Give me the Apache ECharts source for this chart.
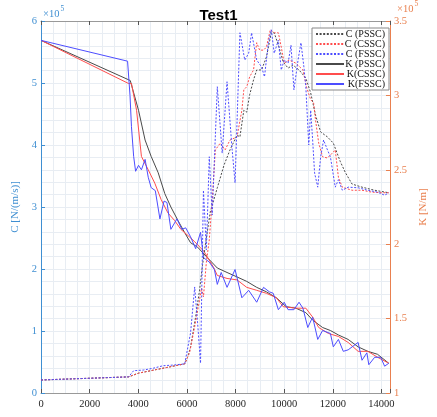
<!DOCTYPE html>
<html><head><meta charset="utf-8">
<script src="https://cdn.jsdelivr.net/npm/echarts@6/dist/echarts.min.js"></script>
<style>html,body{margin:0;padding:0;background:#fff}#c{width:437px;height:417px}</style>
</head><body><div id="c"></div>
<script>
// Values in units of 1e5 (axes show ×10^5)
const xTicks = [0,2000,4000,6000,8000,10000,12000,14000];
const cTicks = [0,1,2,3,4,5,6];
const kTicks = [1,1.5,2,2.5,3,3.5];

const cPsscX = [0,3600,4010,5910,6030,6150,6360,6520,6640,6760,6960,7250,7530,7770,8060,8180,8340,8460,8580,8740,8870,9070,9270,9470,9590,9760,9960,10160,10360,10610,10890,11090,11290,11500,11780,12020,12310,12510,12790,13200,13720,14300];
const cPsscY = [0.21,0.26,0.32,0.47,0.58,0.74,1.23,1.66,2.06,2.39,2.92,3.31,3.68,3.92,4.16,4.13,4.56,4.53,4.81,5.05,5.21,5.21,5.42,5.81,5.81,5.61,5.34,5.24,5.29,5.21,5.08,4.84,4.48,4.21,4.13,4.03,3.73,3.56,3.37,3.32,3.27,3.23];

const cCsscX = [0,3600,4010,5910,6110,6320,6520,6600,6680,6800,6920,7040,7170,7370,7570,7770,8060,8260,8340,8460,8580,8740,8870,8990,9150,9270,9430,9590,9760,9880,10000,10200,10480,10770,10930,11090,11210,11290,11420,11580,11780,11980,12100,12230,12390,12790,13200,13600,14010,14300];
const cCsscY = [0.21,0.26,0.32,0.47,0.65,1.07,1.50,1.69,1.55,2.11,2.47,3.11,3.92,4.03,3.92,4.08,4.13,4.56,4.89,4.94,5.10,5.21,5.65,5.53,5.53,5.58,5.86,5.81,5.81,5.58,5.32,5.37,5.32,5.21,4.92,4.73,4.68,4.40,4.03,3.81,3.79,3.87,3.92,3.48,3.32,3.27,3.27,3.24,3.23,3.23];

const cFsscX = [0,3600,3810,4210,4620,5020,5420,5910,6150,6320,6440,6560,6680,6800,6920,7040,7250,7450,7650,7850,7980,8180,8380,8540,8660,8870,9070,9190,9350,9470,9590,9760,9880,10000,10160,10280,10400,10570,10690,10810,10890,11010,11090,11170,11250,11380,11500,11620,11780,11900,12100,12230,12390,12630,13040,13440,13840,14130,14300];
const cFsscY = [0.21,0.26,0.36,0.37,0.40,0.44,0.45,0.47,0.97,1.71,1.13,0.48,3.27,2.31,3.81,2.87,4.94,3.87,5.02,3.97,3.39,5.81,5.37,5.48,5.81,5.37,5.26,5.10,5.65,5.86,5.48,5.69,5.21,5.37,5.32,5.61,4.89,5.37,5.65,5.26,4.94,4.00,4.56,4.08,3.55,3.32,3.81,4.08,3.92,3.81,3.32,3.44,3.27,3.32,3.31,3.27,3.24,3.19,3.23];

const kPsscX = [0,3670,4010,4280,4530,4820,5090,5340,5630,5900,6150,6440,6840,7250,7650,8060,8460,8870,9270,9680,10080,10480,10890,11170,11580,11900,12230,12630,13040,13440,13840,14300];
const kPsscY = [3.37,3.10,2.90,2.70,2.59,2.48,2.34,2.25,2.16,2.08,2.01,1.98,1.91,1.84,1.81,1.78,1.75,1.71,1.68,1.64,1.58,1.57,1.54,1.49,1.44,1.42,1.39,1.36,1.31,1.28,1.26,1.20];

const kCsscX = [0,3600,3720,3930,4130,4410,4680,4940,5220,5490,5750,6030,6300,6710,7110,7250,7650,8060,8460,8870,9270,9680,9960,10480,10890,11170,11420,11820,12230,12630,13040,13440,13840,14300];
const kCsscY = [3.37,3.08,3.08,2.90,2.59,2.50,2.41,2.30,2.21,2.16,2.10,2.06,2.02,1.95,1.84,1.79,1.77,1.76,1.71,1.69,1.67,1.64,1.58,1.57,1.57,1.51,1.44,1.40,1.38,1.34,1.28,1.28,1.24,1.20];

const kFsscX = [0,3560,3660,3720,3810,3890,4010,4130,4280,4410,4530,4700,4890,5060,5180,5340,5590,5790,5950,6150,6360,6560,6680,6920,7130,7250,7410,7650,7980,8260,8540,8870,9150,9390,9550,9760,10000,10160,10400,10610,10770,10970,11170,11380,11580,11900,12020,12230,12430,12630,13040,13200,13400,13480,13720,13970,14130,14300];
const kFsscY = [3.37,3.23,3.00,2.79,2.59,2.49,2.53,2.50,2.57,2.45,2.38,2.36,2.17,2.29,2.28,2.10,2.17,2.10,2.11,2.05,1.97,2.08,1.91,1.88,1.83,1.73,1.81,1.71,1.83,1.64,1.69,1.61,1.71,1.68,1.67,1.56,1.61,1.56,1.56,1.61,1.57,1.44,1.51,1.36,1.42,1.40,1.31,1.36,1.28,1.29,1.34,1.22,1.27,1.19,1.24,1.24,1.18,1.20];

const names = ['C (PSSC)','C (CSSC)','C (FSSC)','K (PSSC)','K(CSSC)','K(FSSC)'];

const zip = (xs, ys) => xs.map((x, i) => [x, ys[i]]);
const SERIF = 'Liberation Serif';
const BLUE = '#3f8fd2', ORANGE = '#e9804f', GRID = '#e8edf3';
const cBlack = '#4a4a4a', cRed = '#ff4d4d', cBlue = '#4d4dff';
const XMAX = 14350;

function mk(name, xs, ys, yIdx, color, dotted) {
  return {
    name, type: 'line', xAxisIndex: 0, yAxisIndex: yIdx,
    data: zip(xs, ys), showSymbol: false, symbol: 'none',
    lineStyle: { color, width: 1, type: dotted ? [2, 1.6] : 'solid' },
    itemStyle: { color }, silent: true
  };
}

const chart = echarts.init(document.getElementById('c'), null, { renderer: 'canvas' });
chart.setOption({
  animation: false,
  backgroundColor: '#fff',
  title: { text: 'Test1', left: 'center', top: 3,
    textStyle: { fontFamily: 'Liberation Sans', fontWeight: 'bold', fontSize: 15, color: '#000' } },
  grid: { left: 41, right: 41.5, top: 21, bottom: 24, containLabel: false },
  legend: {
    data: names, orient: 'vertical', left: 312, top: 28,
    padding: [1, 4, 1, 3], itemGap: 0, itemWidth: 28, itemHeight: 8,
    backgroundColor: '#fff', borderColor: '#888', borderWidth: 1,
    itemStyle: { opacity: 0 },
    formatter: n => '{t|' + n + '}',
    textStyle: { fontFamily: SERIF, fontSize: 10, color: '#111',
      rich: { t: { width: 36, align: 'right', fontFamily: SERIF, fontSize: 10, lineHeight: 12.2, color: '#111' } } }
  },
  xAxis: [
    { type: 'value', position: 'bottom', min: 0, max: XMAX, interval: 2000,
      axisLine: { show: true, onZero: false, lineStyle: { color: '#999', width: 1 } },
      axisTick: { show: true, inside: true, length: 4, lineStyle: { color: '#555' } },
      axisLabel: { fontFamily: SERIF, fontSize: 10.5, color: '#262626', margin: 6,
        formatter: v => (xTicks.indexOf(v) >= 0 ? String(v) : '') },
      splitLine: { show: false } },
    { type: 'value', position: 'top', min: 0, max: XMAX, interval: 2000,
      axisLine: { show: true, onZero: false, lineStyle: { color: '#999', width: 1 } },
      axisTick: { show: true, inside: true, length: 4, lineStyle: { color: '#555' } },
      axisLabel: { show: false }, splitLine: { show: false } },
    { type: 'value', position: 'bottom', min: 0, max: XMAX, interval: 500,
      axisLine: { show: false }, axisTick: { show: false }, axisLabel: { show: false },
      splitLine: { show: true, lineStyle: { color: GRID, width: 1 } } }
  ],
  yAxis: [
    { type: 'value', position: 'left', min: 0, max: 6, interval: 1,
      name: 'C [N/(m/s)]', nameLocation: 'middle', nameRotate: 90, nameGap: 12,
      nameTextStyle: { fontFamily: SERIF, fontSize: 11, color: BLUE },
      axisLine: { show: true, onZero: false, lineStyle: { color: BLUE, width: 1 } },
      axisTick: { show: true, inside: true, length: 4, lineStyle: { color: BLUE } },
      axisLabel: { fontFamily: SERIF, fontSize: 10.5, color: BLUE, margin: 4,
        formatter: v => (cTicks.indexOf(v) >= 0 ? String(v) : '') },
      splitLine: { show: true, lineStyle: { color: GRID } },
      minorTick: { show: false, splitNumber: 5 },
      minorSplitLine: { show: true, lineStyle: { color: GRID } } },
    { type: 'value', position: 'right', min: 1, max: 3.5, interval: 0.5,
      name: 'K [N/m]', nameLocation: 'middle', nameRotate: 90, nameGap: 17,
      nameTextStyle: { fontFamily: SERIF, fontSize: 11, color: ORANGE },
      axisLine: { show: true, onZero: false, lineStyle: { color: ORANGE, width: 1 } },
      axisTick: { show: true, inside: true, length: 4, lineStyle: { color: ORANGE } },
      axisLabel: { fontFamily: SERIF, fontSize: 10.5, color: ORANGE, margin: 4,
        formatter: v => (kTicks.indexOf(v) >= 0 ? String(v) : '') },
      splitLine: { show: false } }
  ],
  graphic: [
    { type: 'text', left: 43, top: 9, style: { text: '×10', font: '10.5px "Liberation Serif"', fill: BLUE } },
    { type: 'text', left: 60.5, top: 5, style: { text: '5', font: '7.5px "Liberation Serif"', fill: BLUE } },
    { type: 'text', left: 397, top: 4, style: { text: '×10', font: '10.5px "Liberation Serif"', fill: ORANGE } },
    { type: 'text', left: 414.5, top: 0, style: { text: '5', font: '7.5px "Liberation Serif"', fill: ORANGE } }
  ],
  series: [
    mk(names[3], kPsscX, kPsscY, 1, cBlack, false),
    mk(names[4], kCsscX, kCsscY, 1, cRed, false),
    mk(names[5], kFsscX, kFsscY, 1, cBlue, false),
    mk(names[0], cPsscX, cPsscY, 0, cBlack, true),
    mk(names[1], cCsscX, cCsscY, 0, cRed, true),
    mk(names[2], cFsscX, cFsscY, 0, cBlue, true)
  ]
});
</script>
</body></html>
